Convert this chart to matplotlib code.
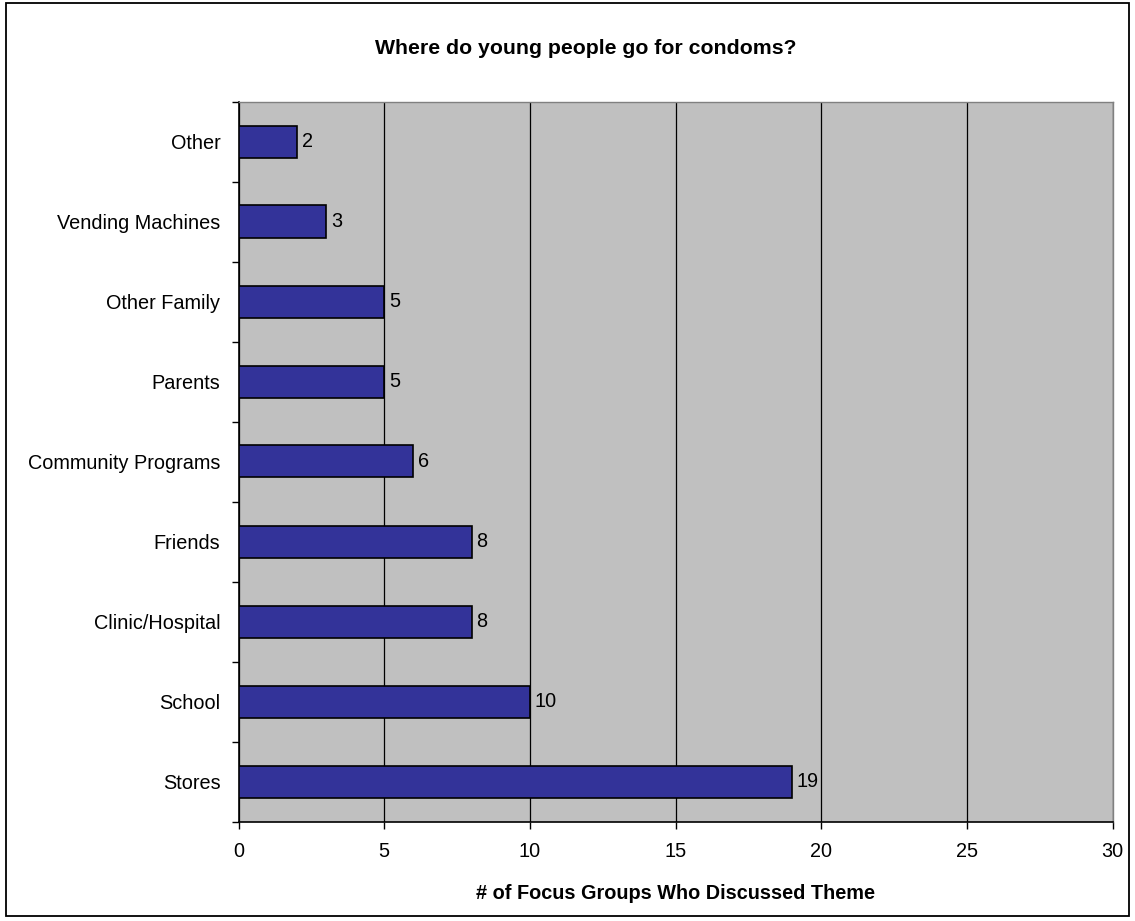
import matplotlib
matplotlib.use("Agg")
import matplotlib.pyplot as plt
from matplotlib.patches import Rectangle

categories = ["Stores", "School", "Clinic/Hospital", "Friends", "Community Programs",
              "Parents", "Other Family", "Vending Machines", "Other"]
values = [19, 10, 8, 8, 6, 5, 5, 3, 2]
xticks = [0, 5, 10, 15, 20, 25, 30]

plt.rcParams['font.family'] = ['Liberation Sans', 'DejaVu Sans']

W, H, DPI = 1135, 921, 100
fig = plt.figure(figsize=(W / DPI, H / DPI), dpi=DPI)
fig.patch.set_facecolor('white')
fig.add_artist(Rectangle((6 / W, 1 - 916 / H), (1129 - 6) / W, (916 - 3) / H,
                         transform=fig.transFigure, fill=False, edgecolor='black', linewidth=1.3))

FS = 14.3
left, right, top, bottom = 238.5, 1112.5, 101.5, 821.5
ax = fig.add_axes([left / W, 1 - bottom / H, (right - left) / W, (bottom - top) / H])
ax.set_facecolor('#C0C0C0')

ypos = list(range(len(categories)))
ax.barh(ypos, values, height=0.4, color='#333399', edgecolor='black', linewidth=1.2, zorder=3)
for y, v in zip(ypos, values):
    ax.annotate(str(v), (v, y), xytext=(3.5, 0), textcoords='offset points',
                va='center', ha='left', fontsize=FS, color='black')

ax.set_xlim(0, 30)
ax.set_ylim(-0.5, len(categories) - 0.5)
ax.set_xticks(xticks)
ax.set_xticklabels([str(t) for t in xticks], fontsize=FS)
ax.set_yticks(ypos)
ax.set_yticklabels(categories, fontsize=FS)
ax.tick_params(axis='y', length=0, pad=13)
ax.set_yticks([i - 0.5 for i in range(len(categories) + 1)], minor=True)
ax.tick_params(axis='y', which='minor', length=5, width=1, direction='out')
ax.tick_params(axis='x', length=5, width=1, direction='out', pad=10)

ax.grid(axis='x', color='black', linewidth=0.9, zorder=1)
ax.set_axisbelow(True)
for s in ['top', 'right']:
    ax.spines[s].set_color('#808080')
    ax.spines[s].set_linewidth(1)
for s in ['left', 'bottom']:
    ax.spines[s].set_color('black')
    ax.spines[s].set_linewidth(1.2)

ax.set_xlabel("# of Focus Groups Who Discussed Theme", fontsize=14.3, fontweight='bold', labelpad=16)
fig.text(586 / W, 1 - 48 / H, "Where do young people go for condoms?",
         ha='center', va='center', fontsize=15.3, fontweight='bold')

fig.savefig("out.png", dpi=DPI)
